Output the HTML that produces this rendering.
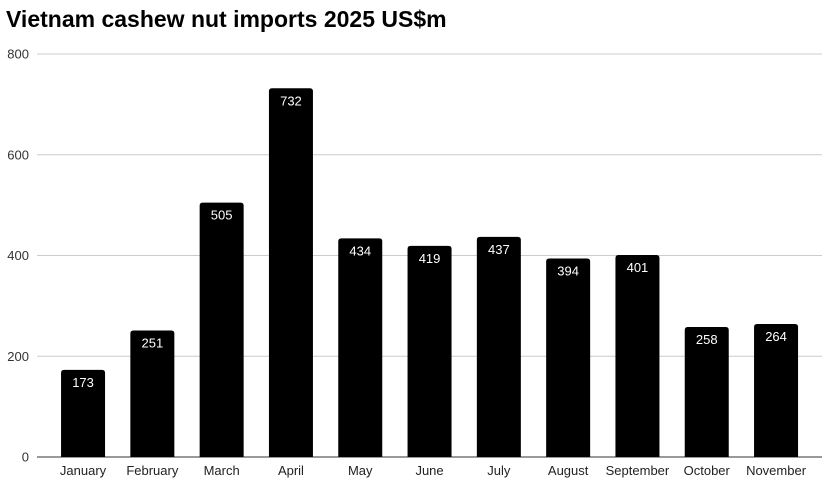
<!DOCTYPE html>
<html><head><meta charset="utf-8"><style>
body{margin:0;background:#fff;font-family:"Liberation Sans",Arial,sans-serif;}
svg text{font-family:"Liberation Sans",Arial,sans-serif;}
</style></head><body>
<svg id="chart" width="834" height="488">
<text x="6" y="27" font-size="23" font-weight="bold" fill="#000">Vietnam cashew nut imports 2025 US$m</text>
<g id="grid"></g><g id="bars"></g><g id="labels"></g>
</svg>
<script>
const categories=["January","February","March","April","May","June","July","August","September","October","November"];
const values=[173,251,505,732,434,419,437,394,401,258,264];
const yTicks=[0,200,400,600,800];
const svg=document.getElementById('chart');
const ns="http://www.w3.org/2000/svg";
const y0=457,yTop=54,yMax=800;
function y(v){return y0-(v/yMax)*(y0-yTop);}
const bandStart=48.4,step=69.3,bw=44;
function xc(i){return bandStart+step*(i+0.5);}
function mk(tag,attrs,parent){const e=document.createElementNS(ns,tag);for(const k in attrs)e.setAttribute(k,attrs[k]);parent.appendChild(e);return e;}
const grid=document.getElementById('grid'),bars=document.getElementById('bars'),labels=document.getElementById('labels');
yTicks.forEach(t=>{
  const l=mk('line',{x1:37,x2:822,y1:y(t),y2:y(t),stroke:t===0?'#333':'#ccc','stroke-width':1},grid);
  
  
  const tx=mk('text',{x:29,y:y(t)+4.5,'font-size':13,'text-anchor':'end',fill:'#333'},grid);
  tx.textContent=t;
  
  
});
values.forEach((v,i)=>{
  const x=xc(i)-bw/2,top=y(v),h=y0-top,r=3;
  const p=mk('path',{d:`M${x},${y0}V${top+r}Q${x},${top} ${x+r},${top}H${x+bw-r}Q${x+bw},${top} ${x+bw},${top+r}V${y0}Z`,fill:'#000'},bars);
  
  
  const vt=mk('text',{x:xc(i),y:top+17,'font-size':13,'text-anchor':'middle',fill:'#fff'},labels);
  vt.textContent=v;
  
  
  const ct=mk('text',{x:xc(i),y:475,'font-size':13,'text-anchor':'middle',fill:'#222'},labels);
  ct.textContent=categories[i];
  
  
});
</script>
</body></html>
